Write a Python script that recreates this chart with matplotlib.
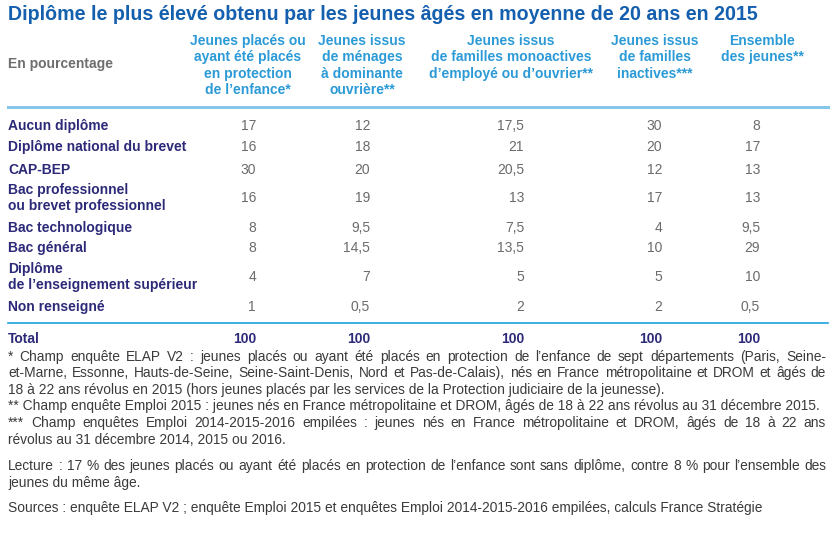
import matplotlib.pyplot as plt
from matplotlib.lines import Line2D

# Data
title = "Diplôme le plus élevé obtenu par les jeunes âgés en moyenne de 20 ans en 2015"

col_headers = [
    "Jeunes placés ou\nayant été placés\nen protection\nde l’enfance*",
    "Jeunes issus\nde ménages\nà dominante\nouvrière**",
    "Jeunes issus\nde familles monoactives\nd’employé ou d’ouvrier**",
    "Jeunes issus\nde familles\ninactives***",
    "Ensemble\ndes jeunes**",
]

categories = [
    "Aucun diplôme",
    "Diplôme national du brevet",
    "CAP-BEP",
    "Bac professionnel\nou brevet professionnel",
    "Bac technologique",
    "Bac général",
    "Diplôme\nde l’enseignement supérieur",
    "Non renseigné",
]

protection = [17, 16, 30, 16, 8, 8, 4, 1]
menages_ouvriers = [12, 18, 20, 19, 9.5, 14.5, 7, 0.5]
monoactives = [17.5, 21, 20.5, 13, 7.5, 13.5, 5, 2]
inactives = [30, 20, 12, 17, 4, 10, 5, 2]
ensemble = [8, 17, 13, 13, 9.5, 29, 10, 0.5]
totals = [100, 100, 100, 100, 100]

notes = [
    "* Champ enquête ELAP V2 : jeunes placés ou ayant été placés en protection de l’enfance de sept départements (Paris, Seine-",
    "et-Marne, Essonne, Hauts-de-Seine, Seine-Saint-Denis, Nord et Pas-de-Calais), nés en France métropolitaine et DROM et âgés de",
    "18 à 22 ans révolus en 2015 (hors jeunes placés par les services de la Protection judiciaire de la jeunesse).",
    "** Champ enquête Emploi 2015 : jeunes nés en France métropolitaine et DROM, âgés de 18 à 22 ans révolus au 31 décembre 2015.",
    "*** Champ enquêtes Emploi 2014-2015-2016 empilées : jeunes nés en France métropolitaine et DROM, âgés de 18 à 22 ans",
    "révolus au 31 décembre 2014, 2015 ou 2016.",
    "Lecture : 17 % des jeunes placés ou ayant été placés en protection de l’enfance sont sans diplôme, contre 8 % pour l’ensemble des",
    "jeunes du même âge.",
    "Sources : enquête ELAP V2 ; enquête Emploi 2015 et enquêtes Emploi 2014-2015-2016 empilées, calculs France Stratégie",
]
# lines stretched to full width in the original (justified paragraphs)
justified = [True, True, False, False, True, False, True, False, False]

series = [protection, menages_ouvriers, monoactives, inactives, ensemble]

# Layout (pixels)
W, H = 835, 545
header_x = [248, 362, 511, 655, 762]
value_x = [256, 370, 524, 662, 760]
row_y = [126, 147, 170, 198, 228, 248, 277, 307]
note_y = [357, 373, 390, 406, 423, 440, 466, 483, 508]
note_left, note_right = 8, 826

title_color = "#1560ae"
header_color = "#2b9ad6"
label_color = "#2c2a78"
value_color = "#6b6b6b"
note_color = "#3a3a3a"

plt.rcParams["font.family"] = ["Liberation Sans", "DejaVu Sans"]

fig = plt.figure(figsize=(W / 100, H / 100), dpi=100)
renderer = fig.canvas.get_renderer()


def fy(y):
    return 1 - y / H


def fx(x):
    return x / W


def fmt(v):
    if float(v).is_integer():
        return str(int(v))
    return str(v).replace(".", ",")


fig.text(fx(8), fy(14), title, fontsize=14.1, fontweight="bold",
         color=title_color, va="center", ha="left")

fig.text(fx(8), fy(64), "En pourcentage", fontsize=10, fontweight="bold",
         color="#6e6e6e", va="center", ha="left")

for x, h in zip(header_x, col_headers):
    fig.text(fx(x), fy(34), h, fontsize=10, fontweight="bold",
             color=header_color, va="top", ha="center", linespacing=1.22)

fig.add_artist(Line2D([fx(8), fx(828)], [fy(107), fy(107)],
                      color="#86c6ea", linewidth=2.2))

for y, cat in zip(row_y, categories):
    fig.text(fx(8), fy(y), cat, fontsize=10, fontweight="bold",
             color=label_color, va="center", ha="left", linespacing=1.2)

for x, vals in zip(value_x, series):
    for y, v in zip(row_y, vals):
        fig.text(fx(x), fy(y), fmt(v), fontsize=10, color=value_color,
                 va="center", ha="right")

fig.add_artist(Line2D([fx(8), fx(828)], [fy(323), fy(323)],
                      color="#1ea0dd", linewidth=1.2))

fig.text(fx(8), fy(339), "Total", fontsize=10, fontweight="bold",
         color=label_color, va="center", ha="left")
for x, t in zip(value_x, totals):
    fig.text(fx(x), fy(339), fmt(t), fontsize=10, fontweight="bold",
             color=label_color, va="center", ha="right")

# Footnotes: pick the largest size (up to 10pt) where every line fits
note_size = 10.0
widest = 0
for n in notes:
    t = fig.text(0, 0, n, fontsize=note_size)
    widest = max(widest, t.get_window_extent(renderer).width)
    t.remove()
if widest > (note_right - note_left) - 4:
    note_size *= ((note_right - note_left) - 4) / widest

for y, n, just in zip(note_y, notes, justified):
    if not just:
        fig.text(fx(note_left), fy(y), n, fontsize=note_size,
                 color=note_color, va="center", ha="left")
        continue
    words = n.split(" ")
    texts = [fig.text(0, fy(y), w, fontsize=note_size, color=note_color,
                      va="center", ha="left") for w in words]
    widths = [t.get_window_extent(renderer).width for t in texts]
    gap = (note_right - note_left - sum(widths)) / (len(words) - 1)
    x = note_left
    for t, w in zip(texts, widths):
        t.set_x(fx(x))
        x += w + gap

fig.savefig("out.png", dpi=100)
